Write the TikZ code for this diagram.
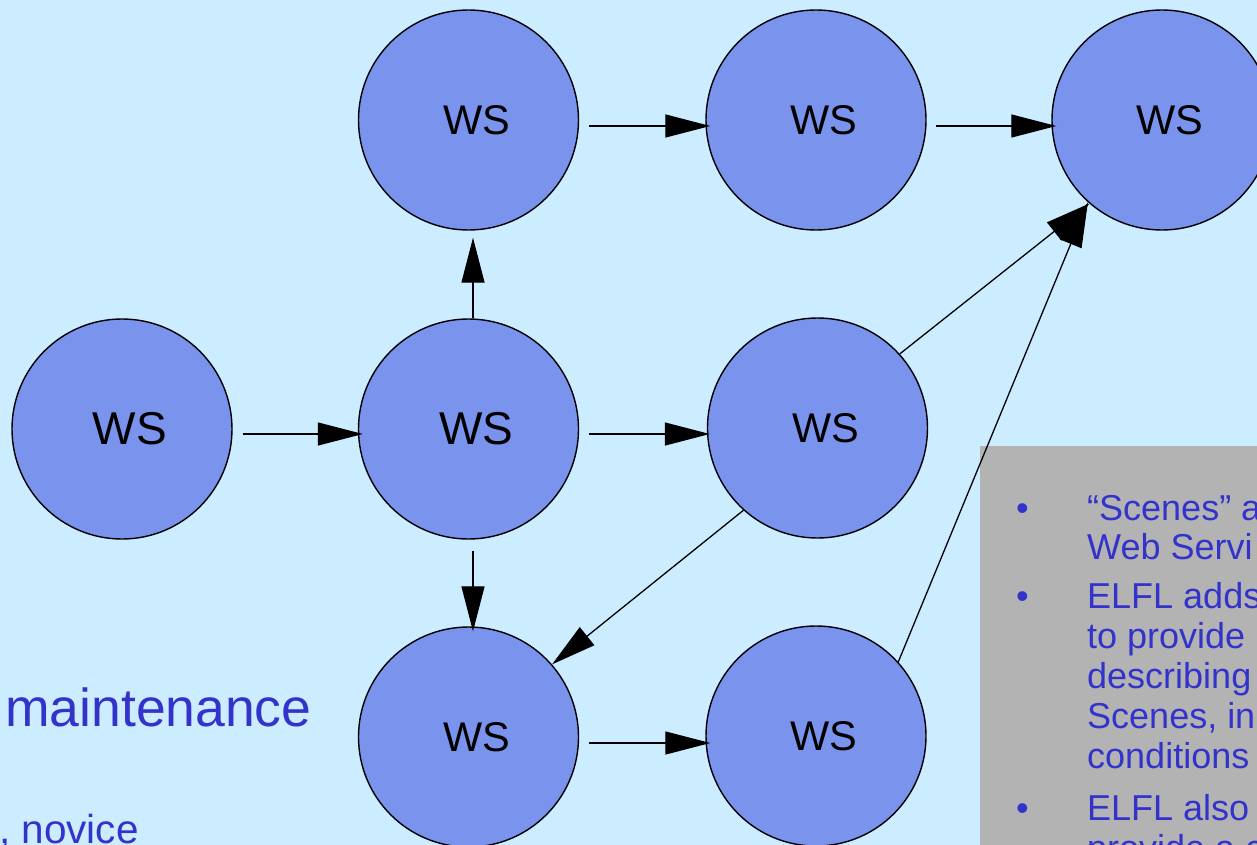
\documentclass[tikz,border=0pt]{standalone}
\usepackage{fontspec}
\setmainfont{Liberation Sans}
\usetikzlibrary{arrows.meta}
\definecolor{bg}{RGB}{204,236,255}
\definecolor{wsfill}{RGB}{122,148,238}
\definecolor{boxgrey}{RGB}{179,179,179}
\definecolor{txtblue}{RGB}{51,51,204}
\begin{document}
\begin{tikzpicture}[x=1pt,y=-1pt,
  ws/.style={circle, draw=black, line width=1.4pt, fill=wsfill, minimum size=220pt,
    inner sep=0pt, text=black, font=\fontsize{41.5}{48}\selectfont},
  wsbig/.style={ws, font=\fontsize{46}{52}\selectfont},
  arr/.style={line width=1.3pt, draw=black, -{Triangle[length=45pt,width=23pt]}},
  btxt/.style={anchor=base west, inner sep=0pt, text=txtblue, font=\fontsize{36}{40}\selectfont},
  bigtxt/.style={anchor=base west, inner sep=0pt, text=txtblue}
]
\useasboundingbox (0,0) rectangle (1257,845);
\fill[bg] (0,0) rectangle (1257,845);
\clip (0,0) rectangle (1257,845);

% left slide text
\node[bigtxt, font=\fontsize{53.5}{60}\selectfont] (maint) at (5,726) {maintenance};
\node[bigtxt, font=\fontsize{40.5}{48}\selectfont] (novice) at (-1,843) {, novice};

% grey box
\fill[boxgrey] (980,446) rectangle (1257,845);

% nodes
\node[wsbig] (A) at (122,429) {\hspace*{16pt}WS};
\node[wsbig] (B) at (468.5,429) {\hspace*{16pt}WS};
\node[ws] (C) at (468.5,120) {\hspace*{16pt}WS};
\node[ws] (D) at (816,120) {\hspace*{16pt}WS};
\node[ws] (E) at (1162,120) {\hspace*{16pt}WS};
\node[ws] (F) at (817.5,428) {\hspace*{16pt}WS};
\node[ws] (G) at (468.5,737) {\hspace*{16pt}WS};
\node[ws] (H) at (816,736) {\hspace*{16pt}WS};

% connectors
\draw[arr] ([shift={(10,5)}]A.east) -- ([shift={(5,5)}]B.west);
\draw[arr] ([shift={(10,5)}]B.east) -- ([shift={(3,6)}]F.west);
\draw[arr] ([shift={(10,6)}]C.east) -- ([shift={(5,6)}]D.west);
\draw[arr] ([shift={(9,6)}]D.east) -- ([shift={(5,6)}]E.west);
\draw[arr] ([shift={(10,6)}]G.east) -- ([shift={(5,7)}]H.west);
\draw[arr] ([shift={(4.5,0)}]B.north) -- ([shift={(4.5,7)}]C.south);
\draw[arr] ([shift={(4.5,11)}]B.south) -- ([shift={(4.5,5)}]G.north);
\draw[arr] (F.42) -- (E.229);
\draw[arr] (H.42) -- (E.228);
\draw[arr] (F.228) -- (G.41);

% bullet text
\node[btxt] (b1) at (1016,520) {•};
\node[btxt] (b2) at (1016,608) {•};
\node[btxt] (b3) at (1016,820) {•};
\node[btxt] (l1) at (1087,520) {“Scenes” a};
\node[btxt] (l2) at (1087,559) {Web Servi};
\node[btxt] (l3) at (1087,608) {ELFL adds};
\node[btxt] (l4) at (1087,648) {to provide};
\node[btxt] (l5) at (1087,688) {describing};
\node[btxt] (l6) at (1087,728) {Scenes, in};
\node[btxt] (l7) at (1087,768) {conditions};
\node[btxt] (l8) at (1087,820) {ELFL also};
\node[btxt] (l9) at (1087,860) {provide a c};
\end{tikzpicture}
\end{document}
